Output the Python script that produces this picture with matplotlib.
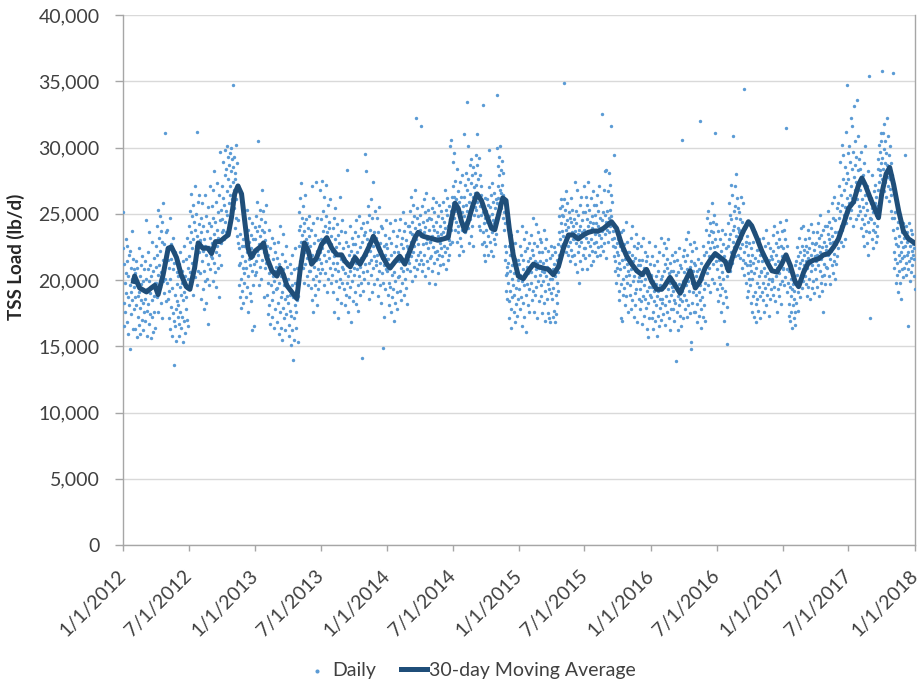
import pandas as pd
import matplotlib.pyplot as plt
import numpy as np
from matplotlib.ticker import FuncFormatter

# ------------------------------- DATA -------------------------------
# Daily TSS load, hundreds of lb/d. One line per month (Jan..Dec).
tss_2012 = """
251 224 183 165 212 198 176 205 231 190 168 214 226 187 159 203 219 181 196 148 222 209 174 191 237 185 201 163 216 195 208
178 205 187 163 199 214 181 157 196 209 172 188 224 166 191 203 179 159 211 185 197 170 218 183 162 199 208 176 192
186 214 169 201 245 177 193 158 208 221 182 167 199 236 174 190 211 156 203 185 172 229 195 161 207 188 217 176 198 164 210
198 226 241 187 219 204 253 176 232 211 195 248 222 183 237 206 229 171 244 215 199 258 190 227 213 311 201 236 184 219
224 198 238 186 215 171 209 192 247 163 201 227 180 216 158 194 232 175 208 169 136 213 189 165 221 178 154 197 184 206 172
181 203 167 212 158 195 176 221 189 164 207 172 198 153 214 185 169 226 191 160 203 178 216 187 170 232 194 165 209 201
218 241 206 252 229 197 236 265 213 248 224 189 257 231 209 244 271 202 238 226 215 250 196 312 233 259 207 242 221 264 230
229 205 247 186 236 214 258 193 222 241 178 231 207 264 199 226 248 183 219 237 201 255 212 167 243 225 196 232 208 271 218
241 217 256 228 199 247 268 213 235 282 206 244 221 259 195 238 273 226 209 251 232 187 264 219 245 297 228 211 253 236
246 271 238 262 289 231 257 279 244 298 252 236 284 267 301 249 276 293 258 242 287 264 296 271 253 300 282 261 291 285 274
347 268 293 254 281 239 276 302 261 247 288 233 272 228 245 211 196 224 187 213 235 201 179 218 226 192 209 183 231 205
226 198 241 214 187 232 209 253 221 195 238 203 176 229 216 247 190 211 234 184 224 207 162 243 218 196 231 165 212 240 204
"""
tss_2013 = """
231 214 248 206 237 222 259 219 305 241 227 196 253 233 210 246 224 201 268 238 215 229 252 187 236 221 244 209 230 257 218
213 189 226 198 174 219 205 238 181 211 167 224 196 209 185 232 172 203 216 191 164 228 199 207 178 221 193 210
194 217 168 205 183 229 159 198 212 176 241 187 203 164 220 191 155 208 235 179 196 171 214 186 162 226 199 174 210 188 197
183 201 166 194 158 212 177 189 151 205 173 196 219 162 140 187 208 171 155 198 181 224 164 192 176 209 185 153 197 188
238 251 226 214 262 241 229 273 218 247 234 209 256 225 243 198 237 221 264 212 231 246 203 228 217 239 196 222 248 207 233
207 226 194 238 212 185 271 219 201 243 176 228 210 196 234 189 274 215 203 222 181 247 208 193 230 199 216 268 205 221
231 246 213 275 224 208 252 237 196 263 219 241 205 229 272 214 248 191 236 222 257 201 239 217 244 226 209 261 233 198 227
222 204 239 213 191 247 218 176 231 208 254 199 225 186 213 242 207 171 234 219 195 228 263 201 216 183 237 210 198 245 214
208 224 193 217 181 236 205 214 189 229 198 283 211 176 226 203 219 187 241 207 195 222 168 213 232 199 216 184 227 209
219 204 236 191 227 213 182 245 208 221 196 233 177 214 248 203 225 189 210 239 198 217 141 229 206 243 192 218 201 234 212
236 295 282 219 244 207 231 256 198 227 213 249 186 238 222 204 261 215 233 191 247 226 209 274 218 236 197 229 252 211
214 232 201 247 219 188 236 224 207 255 196 228 213 241 183 222 239 205 217 198 149 226 172 211 234 219 193 245 208 227 216
"""
tss_2014 = """
207 224 189 216 198 232 181 211 243 195 219 176 228 204 187 237 212 193 221 169 206 245 199 183 226 214 191 233 178 218 202
221 203 238 214 192 246 209 227 185 232 216 198 251 207 224 189 237 213 201 243 219 194 230 208 226 182 241 215
224 241 213 252 236 207 229 263 218 244 199 235 257 221 210 248 226 203 239 268 215 322 231 247 208 254 227 219 242 212 236
238 221 249 215 316 233 207 256 227 244 212 261 236 219 251 203 240 228 266 214 245 231 209 253 224 238 198 247 229 217
229 246 218 254 233 207 241 225 262 213 238 251 221 197 244 230 259 216 236 222 248 205 233 257 219 241 228 211 252 235 224
231 247 218 259 236 212 244 226 268 221 239 253 208 233 249 224 262 215 241 230 256 219 246 227 301 238 306 252 229 263
271 258 289 247 263 296 252 238 275 244 261 229 253 284 241 236 267 219 248 259 232 274 245 226 263 251 238 279 222 256 243
248 310 263 236 272 257 281 244 334 268 252 301 239 276 259 228 287 265 246 273 233 291 258 241 279 226 263 285 249 270 255
266 281 253 294 272 310 259 287 248 276 263 292 241 279 256 238 271 249 264 227 258 332 236 251 219 243 229 262 214 247
238 252 226 261 244 219 257 233 270 248 298 229 255 241 264 222 250 236 273 245 218 259 231 266 243 254 227 261 247 235 258
300 340 271 286 262 293 257 279 268 301 254 283 266 290 272 259 281 247 264 238 251 226 243 215 204 221 192 210 186 205
198 213 184 226 171 207 192 219 178 234 164 201 187 211 196 223 176 205 189 228 168 216 194 182 209 237 173 200 215 186 202
"""
tss_2015 = """
212 193 226 178 204 219 187 241 199 165 215 208 183 231 196 172 222 203 189 236 161 210 197 224 181 214 205 193 228 176 209
217 198 234 206 185 223 211 247 192 219 176 228 203 214 189 242 208 195 226 171 213 236 199 221 184 209 231 204
214 196 229 188 207 221 175 213 199 238 183 206 224 192 169 215 203 231 186 210 197 175 222 171 208 193 217 168 201 226 190
201 186 219 172 208 194 225 177 212 168 203 221 189 174 215 198 183 227 206 192 236 219 248 231 254 226 243 261 237 249
256 233 248 227 261 349 242 229 253 238 267 221 245 232 258 219 240 226 251 235 214 247 229 262 223 244 236 218 253 231 241
231 246 219 274 237 212 252 228 243 206 268 235 221 249 198 238 226 257 214 241 229 263 208 236 245 219 251 233 271 224
238 224 251 217 263 232 246 208 257 229 241 274 219 236 253 226 244 211 262 231 248 222 239 267 214 243 257 228 235 249 221
243 229 257 236 218 264 241 225 252 234 271 219 247 238 226 259 232 245 325 237 251 222 268 240 228 282 235 249 217 283 244
252 238 267 244 229 281 247 236 272 253 241 264 316 248 231 259 226 243 237 294 218 232 207 225 214 239 198 221 209 228
219 204 231 192 213 185 226 208 171 236 197 215 169 223 201 189 238 210 194 227 181 216 203 244 188 212 198 229 176 207 221
204 221 189 213 196 232 178 208 219 185 241 199 214 172 226 203 190 217 181 235 207 193 224 168 211 199 228 186 215 202
193 211 178 226 199 184 215 167 204 188 232 196 173 209 221 186 201 179 214 192 163 218 157 207 183 229 195 171 212 189 203
"""
tss_2016 = """
187 204 171 195 218 176 199 163 211 184 192 226 169 203 181 197 158 214 188 173 207 192 165 221 179 196 186 232 170 201 183
203 186 219 174 207 195 228 181 212 166 199 224 188 209 176 216 193 231 184 205 171 198 213 162 189 207 178 195 219
192 178 207 185 214 169 198 221 183 139 204 176 193 215 188 162 206 181 224 197 173 211 186 165 209 192 306 184 218 171 199
206 189 223 178 214 196 231 185 208 172 219 199 236 181 204 192 227 175 210 148 153 214 198 183 222 207 191 229 176 213
194 211 176 203 189 224 168 207 182 199 216 173 191 208 185 320 196 178 213 164 201 187 226 172 205 193 181 219 169 198 210
221 238 205 247 213 229 196 252 218 234 209 243 224 191 237 216 258 201 229 244 212 236 198 225 249 311 231 218 242 214
208 226 193 219 184 237 202 215 189 231 197 222 176 211 238 194 206 183 227 201 218 169 213 192 235 187 209 224 180 203 152
226 243 214 258 231 207 249 235 272 221 246 213 264 238 229 309 252 225 241 271 218 256 233 247 280 227 262 239 219 254 236
238 251 224 246 217 263 232 209 244 227 258 215 236 344 221 204 239 213 229 198 226 211 187 233 205 219 192 228 201 214
211 196 224 183 207 219 176 201 229 188 213 172 205 236 191 217 182 209 168 223 198 186 214 177 231 195 203 171 219 188 206
207 223 191 214 198 232 185 209 219 176 226 203 194 217 181 238 205 189 212 197 228 173 215 201 186 224 209 193 218 199
216 201 234 189 222 207 195 241 212 184 228 203 219 176 236 209 193 225 214 188 231 205 197 244 211 182 226 218 199 237 208
"""
tss_2017 = """
224 209 238 196 217 231 202 219 245 315 208 226 191 214 198 182 207 173 195 212 169 188 201 176 193 164 205 181 197 171 186
192 176 211 166 198 214 183 225 204 191 218 177 209 232 196 221 187 213 239 202 226 194 215 208 241 199 223 211
219 203 231 197 214 226 188 221 209 238 195 217 232 201 224 186 213 242 207 219 194 228 211 236 199 215 223 190 227 208 218
214 228 201 236 219 195 243 211 226 188 232 207 221 249 198 216 234 203 225 192 238 176 212 229 204 219 241 197 223 210
226 241 209 235 219 252 203 231 244 216 228 197 239 222 258 211 233 205 247 229 214 263 220 236 201 245 227 212 254 231 218
236 258 224 271 247 233 289 252 229 264 241 302 257 238 276 226 294 249 268 231 285 255 312 243 273 262 347 281 251 296
276 258 301 264 247 289 271 322 253 284 316 262 297 241 278 331 259 287 268 305 246 293 274 336 261 283 249 309 272 256 291
268 252 284 239 273 297 246 261 233 279 255 242 288 226 264 249 301 237 258 271 228 253 244 282 219 261 236 354 247 171 258
246 262 231 254 279 238 251 224 267 243 258 236 272 229 249 263 241 256 233 284 268 291 274 302 283 297 279 311 288 305
292 358 276 311 284 299 267 318 288 274 305 281 296 263 322 287 271 309 278 294 260 283 301 269 276 252 288 264 279 247 271
356 238 221 247 209 232 216 251 198 227 204 239 213 226 191 244 219 207 233 214 198 229 221 186 236 208 217 243 202 225
218 232 209 294 226 213 241 204 229 219 236 165 221 208 243 214 226 199 231 217 238 206 222 211 235 219 227 203 216 224 193
"""
daily_by_year = {2012: tss_2012, 2013: tss_2013, 2014: tss_2014,
                 2015: tss_2015, 2016: tss_2016, 2017: tss_2017}

# 30-day moving average (lb/d), read at days since 1/1/2012
ma_days = [29, 32, 46, 65, 78, 88, 97, 111, 125, 134, 148, 161, 175, 185, 198, 208, 221, 235, 245, 256,
           268, 281, 291, 300, 309, 318, 328, 337, 346, 355, 366, 380, 389, 398, 412, 426, 435, 444, 453, 467,
           481, 490, 502, 513, 522, 536, 550, 564, 578, 592, 605, 615, 629, 642, 656, 670, 684, 693, 702, 716,
           730, 739, 753, 766, 780, 794, 808, 817, 831, 845, 859, 872, 886, 900, 909, 919, 928, 937, 946, 955,
           969, 980, 992, 1006, 1020, 1029, 1039, 1051, 1060, 1069, 1080, 1094, 1108, 1122, 1136, 1150, 1163, 1177, 1191, 1205,
           1219, 1233, 1246, 1260, 1274, 1288, 1302, 1316, 1330, 1343, 1352, 1366, 1380, 1394, 1408, 1422, 1436, 1449, 1463, 1477,
           1491, 1500, 1514, 1528, 1542, 1556, 1570, 1584, 1597, 1611, 1625, 1639, 1653, 1667, 1676, 1690, 1704, 1717, 1731, 1740,
           1754, 1768, 1782, 1796, 1810, 1823, 1835, 1847, 1860, 1870, 1884, 1897, 1911, 1925, 1939, 1953, 1967, 1980, 1994, 2008,
           2022, 2036, 2045, 2054, 2068, 2082, 2091, 2100, 2112, 2122, 2133, 2147, 2160, 2174, 2191]
ma_vals = [19900, 20300, 19400, 19100, 19400, 19600, 18900, 20400, 22400, 22500, 21700, 20400, 19500, 19300, 20900, 22800, 22400, 22400, 22000, 22900,
           22900, 23200, 23400, 24700, 26500, 27100, 26500, 24400, 22400, 21700, 22200, 22500, 22800, 21700, 20700, 20300, 20900, 20400, 19600, 19100,
           18600, 20700, 22800, 22200, 21200, 21700, 22700, 23200, 22400, 21900, 21900, 21400, 21000, 21700, 21200, 21900, 22700, 23300, 22800, 21900,
           21200, 20900, 21400, 21800, 21200, 22200, 23200, 23600, 23300, 23200, 23100, 23000, 23100, 23200, 24600, 25800, 25400, 24400, 23700, 24400,
           25700, 26500, 26000, 24900, 23900, 23800, 24900, 26200, 26000, 23900, 21900, 20300, 20100, 20700, 21200, 21000, 20900, 20800, 20400, 21000,
           22400, 23400, 23400, 23100, 23400, 23600, 23700, 23700, 23900, 24200, 24400, 23900, 22700, 21800, 21200, 20700, 20400, 20800, 19900, 19300,
           19300, 19600, 20200, 19600, 19000, 19900, 20700, 19400, 19900, 20900, 21500, 22000, 21700, 21400, 20700, 22000, 22900, 23700, 24400, 24100,
           23200, 22200, 21400, 20700, 20600, 21200, 21900, 21100, 19900, 19500, 20600, 21300, 21500, 21600, 21900, 22000, 22500, 23100, 24200, 25400,
           25900, 27200, 27700, 27200, 26200, 25300, 24700, 26500, 28000, 28500, 27200, 25200, 23700, 23100, 22800]

tick_labels = ['1/1/2012', '7/1/2012', '1/1/2013', '7/1/2013', '1/1/2014', '7/1/2014', '1/1/2015',
               '7/1/2015', '1/1/2016', '7/1/2016', '1/1/2017', '7/1/2017', '1/1/2018']


# ------------------------------- PREP -------------------------------
def buildDaily():
    dates = []
    vals = []
    for year, block in daily_by_year.items():
        months = [ln for ln in block.strip().splitlines() if ln.strip()]
        for m, line in enumerate(months, start=1):
            v = [int(s) * 100 for s in line.split()]
            dates.extend(pd.date_range(f'{year}-{m:02d}-01', periods=len(v), freq='D'))
            vals.extend(v)
    return pd.Series(vals, index=pd.DatetimeIndex(dates))


# ------------------------------- PLOT -------------------------------
def plotLoad(daily):
    plt.rcParams['font.family'] = ['Lato', 'DejaVu Sans']
    fig = plt.figure(figsize=(9.23, 6.83), dpi=100)
    ax = fig.add_axes([0.1333, 0.202, 0.858, 0.776])

    start = pd.Timestamp('2012-01-01')
    ma_dates = start + pd.to_timedelta(ma_days, unit='D')

    ax.scatter(daily.index, daily.values, s=6, c='#5B9BD5', linewidths=0, zorder=3, label='Daily')
    ax.plot(ma_dates, ma_vals, color='#1F4E79', lw=3.6, solid_joinstyle='round', zorder=4,
            label='30-day Moving Average')

    ax.set_ylim(0, 40000)
    ax.set_yticks(np.arange(0, 40001, 5000))
    ax.yaxis.set_major_formatter(FuncFormatter(lambda v, p: f'{int(v):,}'))
    ax.grid(axis='y', color='#D9D9D9', lw=1, zorder=0)

    ticks = pd.date_range('2012-01-01', '2018-01-01', freq='6MS')
    ax.set_xlim(start, pd.Timestamp('2018-01-01'))
    ax.set_xticks(ticks)
    ax.set_xticklabels(tick_labels, rotation=45, ha='right', va='center', rotation_mode='anchor')

    ax.spines['top'].set_visible(False)
    for side in ['left', 'bottom', 'right']:
        ax.spines[side].set_color('#A6A6A6')
        ax.spines[side].set_linewidth(1)
    ax.tick_params(axis='both', colors='#A6A6A6', width=1, labelcolor='#404040', labelsize=14)
    ax.tick_params(axis='y', length=6, pad=11)
    ax.tick_params(axis='x', length=4, pad=16)

    ax.set_ylabel('TSS Load (lb/d)', fontsize=13.5, fontweight='bold', color='#262626')
    ax.yaxis.set_label_coords(-0.124, 0.543)

    fig.legend(loc='center', bbox_to_anchor=(0.509, 0.018), ncol=2, frameon=False, fontsize=14,
               handlelength=1.35, columnspacing=1.3, handletextpad=0.1, labelcolor='#404040',
               markerscale=1.2, scatterpoints=1)
    return fig


if __name__ == '__main__':
    daily = buildDaily()
    fig = plotLoad(daily)
    fig.savefig('out.png', dpi=100)
